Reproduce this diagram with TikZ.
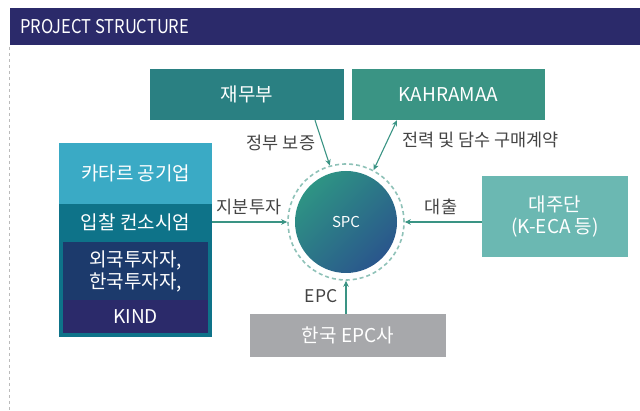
\documentclass[tikz,border=0pt]{standalone}
\usepackage{fontspec}
\setmainfont{Noto Sans CJK KR}
\newfontfamily\hdrfont[FakeStretch=0.87]{Noto Sans CJK KR}
\usetikzlibrary{arrows.meta,calc}
\definecolor{hdr}{HTML}{2B2A6A}
\definecolor{qlight}{HTML}{3AAAC5}
\definecolor{consc}{HTML}{0E7389}
\definecolor{navyb}{HTML}{1C3A6C}
\definecolor{kindc}{HTML}{2B2A6A}
\definecolor{minc}{HTML}{2A8082}
\definecolor{kahc}{HTML}{3A9484}
\definecolor{daec}{HTML}{6BB8B2}
\definecolor{epcc}{HTML}{A7A8AB}
\definecolor{arrc}{HTML}{3A9484}
\definecolor{ringc}{HTML}{8FC2B8}
\definecolor{lblc}{HTML}{444444}
\definecolor{spcA}{HTML}{2E9484}
\definecolor{spcB}{HTML}{2A568C}
\definecolor{guide}{HTML}{BBBBBB}
\tikzset{
  boxnode/.style={rectangle, inner sep=0pt, text=white, font=\fontsize{19}{22}\selectfont, align=center},
  lbl/.style={text=lblc, font=\fontsize{17.5}{20}\selectfont, inner sep=0pt},
  conn/.style={draw=arrc, line width=1.1pt, -{Stealth[length=6pt,width=5.5pt]}},
}
\begin{document}
\begin{tikzpicture}[x=1pt,y=-1pt]
\useasboundingbox (0,0) rectangle (640,411);
% header
\node[rectangle, fill=hdr, inner sep=0pt, minimum width=630, minimum height=37, anchor=north west] (header) at (10,8) {};
\node[anchor=west, text=white, inner sep=0pt, font=\hdrfont\fontsize{19}{21}\selectfont] (title) at (20,26.5) {PROJECT STRUCTURE};
\coordinate (gtop) at (9.5,47);
\coordinate (gbot) at (9.5,411);
\draw[guide, line width=1pt, dash pattern=on 3pt off 3pt] (gtop) -- (gbot);
% left stack
\node[boxnode, fill=qlight, minimum width=153, minimum height=61, anchor=north west] (qatar) at (59,143) {카타르 공기업};
\node[boxnode, fill=consc, minimum width=153, minimum height=133, anchor=north west] (cons) at (59,204) {};
\node[boxnode] (constext) at (135.5,222.5) {입찰 컨소시엄};
\node[boxnode, fill=navyb, minimum width=145, minimum height=58, anchor=north west] (foreign) at (63,242) {외국투자자,\\한국투자자,};
\node[boxnode, fill=kindc, minimum width=145, minimum height=33, anchor=north west] (kind) at (63,300) {KIND};
% top boxes
\node[boxnode, fill=minc, minimum width=194, minimum height=51] (min) at (247,94.5) {재무부};
\node[boxnode, fill=kahc, minimum width=193, minimum height=51] (kah) at (448.5,94.5) {KAHRAMAA};
% right box
\node[boxnode, fill=daec, minimum width=146, minimum height=81] (dae) at (555,216.5) {대주단\\(K-ECA 등)};
% bottom box
\node[boxnode, fill=epcc, minimum width=196, minimum height=43] (epc) at (348,335.5) {한국 EPC사};
% SPC
\node[circle, minimum size=102, inner sep=0pt, top color=spcA, bottom color=spcB, shading angle=45, text=white, font=\fontsize{15}{17}\selectfont] (spc) at (346,222) {SPC};
\node[circle, minimum size=116, inner sep=0pt, draw=ringc, line width=1.6pt, dash pattern=on 4pt off 3pt] (ring) at (346,222) {};
% connectors
\draw[conn] ([xshift=68pt]min.south) -- (ring.106);
\draw[draw=arrc, line width=1.1pt, {Stealth[length=6pt,width=5.5pt]}-{Stealth[length=6pt,width=5.5pt]}] ([xshift=-51.5pt]kah.south) -- (ring.62.6);
\draw[conn] (cons.north east |- spc.center) -- (ring.west);
\draw[conn] (dae.west |- spc.center) -- (ring.east);
\draw[conn] (epc.north -| spc.center) -- (ring.south);
% labels
\node[lbl] (l1) at (281,143) {정부 보증};
\node[lbl] (l2) at (480.5,140) {전력 및 담수 구매계약};
\node[lbl] (l3) at (249,207) {지분투자};
\node[lbl] (l4) at (441,207) {대출};
\node[lbl] (l5) at (321,296) {EPC};
\end{tikzpicture}
\end{document}
